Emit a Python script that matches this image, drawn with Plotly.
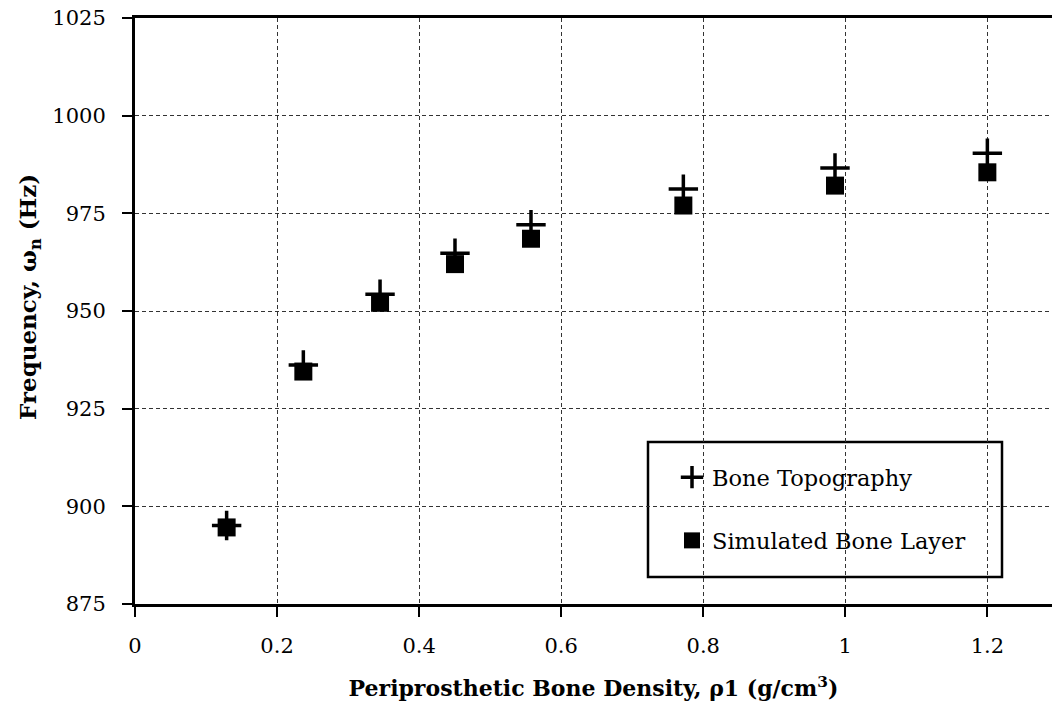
import plotly.graph_objects as go

# Periprosthetic bone density (g/cm^3)
density = [0.129, 0.237, 0.345, 0.4505, 0.5575, 0.772, 0.9855, 1.2]
# Natural frequency (Hz) for each model
bone_topography = [895.1, 936.2, 954.3, 964.8, 972.1, 981.2, 986.6, 990.4]
simulated_layer = [894.6, 934.5, 952.1, 962.0, 968.5, 977.0, 982.1, 985.5]

x_ticks = [0, 0.2, 0.4, 0.6, 0.8, 1.0, 1.2]
x_tick_text = ["0", "0.2", "0.4", "0.6", "0.8", "1", "1.2"]
y_ticks = [875, 900, 925, 950, 975, 1000, 1025]

SERIF = "DejaVu Serif"
W, H = 1052, 709
ML, MR, MT, MB = 135, 0, 18, 105
PW, PH = W - ML - MR, H - MT - MB


def px_x(p):
    return (p - ML) / PW


def px_y(p):
    return (H - MB - p) / PH


fig = go.Figure()

fig.add_trace(go.Scatter(
    x=density, y=bone_topography, mode="markers",
    name="Bone Topography", legendgroup="a",
    marker=dict(symbol="cross-thin", size=21, color="black",
                line=dict(color="black", width=3.5)),
))
fig.add_trace(go.Scatter(
    x=density, y=simulated_layer, mode="markers",
    name="Simulated Bone Layer", legendgroup="b",
    marker=dict(symbol="square", size=18, color="black",
                line=dict(width=0)),
))

# legend frame
fig.add_shape(type="rect", xref="paper", yref="paper",
              x0=px_x(648), x1=px_x(1002), y0=px_y(577), y1=px_y(442),
              line=dict(color="black", width=2.5), fillcolor="white",
              layer="below")

# y-axis title
fig.add_annotation(
    text="<b>Frequency, ω<sub>n</sub> (Hz)</b>", textangle=-90,
    xref="paper", yref="paper", x=px_x(29), y=px_y(297),
    xanchor="center", yanchor="middle", showarrow=False,
    font=dict(family=SERIF, size=23, color="black"),
)

fig.update_layout(
    width=W, height=H,
    margin=dict(l=ML, r=MR, t=MT, b=MB),
    plot_bgcolor="white", paper_bgcolor="white",
    font=dict(family=SERIF, size=21, color="black"),
    showlegend=True,
    legend=dict(
        x=px_x(672), y=px_y(456), xanchor="left", yanchor="top",
        bgcolor="rgba(0,0,0,0)", borderwidth=0,
        font=dict(family=SERIF, size=22.5, color="black"),
        tracegroupgap=31, traceorder="grouped",
    ),
    xaxis=dict(
        range=[0, PW / 710.3], tickvals=x_ticks, ticktext=x_tick_text,
        showline=True, linecolor="black", linewidth=3, mirror=True,
        ticks="outside", ticklen=10, tickwidth=2, tickcolor="black",
        ticklabelstandoff=11,
        showgrid=True, gridcolor="#333333", gridwidth=1, griddash="4px,3px",
        zeroline=False,
        title=dict(text="<b>Periprosthetic Bone Density, ρ1 (g/cm<sup>3</sup>)</b>",
                   font=dict(family=SERIF, size=22, color="black"), standoff=24),
    ),
    yaxis=dict(
        range=[875, 1025], tickvals=y_ticks,
        showline=True, linecolor="black", linewidth=3, mirror=False,
        ticks="outside", ticklen=10, tickwidth=2, tickcolor="black",
        ticklabelstandoff=12,
        showgrid=True, gridcolor="#333333", gridwidth=1, griddash="4px,3px",
        zeroline=False,
    ),
)

fig.write_html("out.html")
